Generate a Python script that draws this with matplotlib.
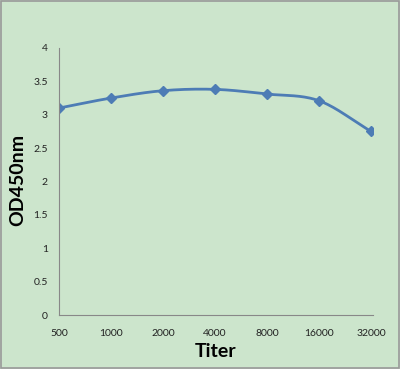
import matplotlib
matplotlib.use("Agg")
import matplotlib.pyplot as plt
import numpy as np

titers = ["500", "1000", "2000", "4000", "8000", "16000", "32000"]
od450 = [3.10, 3.25, 3.36, 3.38, 3.31, 3.21, 2.75]
yticks = [0, 0.5, 1, 1.5, 2, 2.5, 3, 3.5, 4]
ytick_labels = ["0", "0.5", "1", "1.5", "2", "2.5", "3", "3.5", "4"]

plt.rcParams["font.family"] = ["Lato", "DejaVu Sans"]

bg = "#cce5cc"
line_color = "#4d7cb5"

fig = plt.figure(figsize=(4.0, 3.69), dpi=100, facecolor=bg)
ax = fig.add_axes([0.1475, 0.1463, 0.785, 0.7237])
ax.set_facecolor(bg)

x = np.arange(len(titers), dtype=float)
y = np.array(od450)

# smoothed line (Catmull-Rom as in spreadsheet smoothing)
px = np.concatenate([[2 * x[0] - x[1]], x, [2 * x[-1] - x[-2]]])
py = np.concatenate([[2 * y[0] - y[1]], y, [2 * y[-1] - y[-2]]])
sx, sy = [], []
t = np.linspace(0, 1, 30)
for i in range(1, len(px) - 2):
    p0, p1, p2, p3 = [np.array([px[j], py[j]]) for j in (i - 1, i, i + 1, i + 2)]
    tt = t[:, None]
    pts = 0.5 * ((2 * p1) + (-p0 + p2) * tt + (2 * p0 - 5 * p1 + 4 * p2 - p3) * tt**2
                 + (-p0 + 3 * p1 - 3 * p2 + p3) * tt**3)
    sx.extend(pts[:, 0]); sy.extend(pts[:, 1])
ax.plot(sx, sy, color=line_color, lw=2.0, solid_capstyle="round")
ax.plot(x, y, ls="none", marker="D", ms=5, color=line_color)

ax.set_xlim(0, 6.04)
ax.set_ylim(0, 4)
ax.set_xticks(x)
ax.set_xticklabels(titers, fontsize=7.5)
ax.set_yticks(yticks)
ax.set_yticklabels(ytick_labels, fontsize=7.5)
ax.tick_params(length=0, colors="#222222")
ax.tick_params(axis="x", pad=10)
ax.tick_params(axis="y", pad=8)
for s in ("top", "right"):
    ax.spines[s].set_visible(False)
for s in ("left", "bottom"):
    ax.spines[s].set_color("#888888")
    ax.spines[s].set_linewidth(0.8)

ax.set_xlabel("Titer", fontsize=14, fontweight="bold")
ax.set_ylabel("OD450nm", fontsize=14, fontweight="bold")
ax.xaxis.set_label_coords(0.5, -0.105)
ax.yaxis.set_label_coords(-0.103, 0.505)

border = plt.Rectangle((0.002, 0.002), 0.996, 0.996, transform=fig.transFigure,
                       fill=False, edgecolor="#999999", lw=1.2)
fig.patches.append(border)

fig.savefig("out.png", dpi=100, facecolor=bg)
